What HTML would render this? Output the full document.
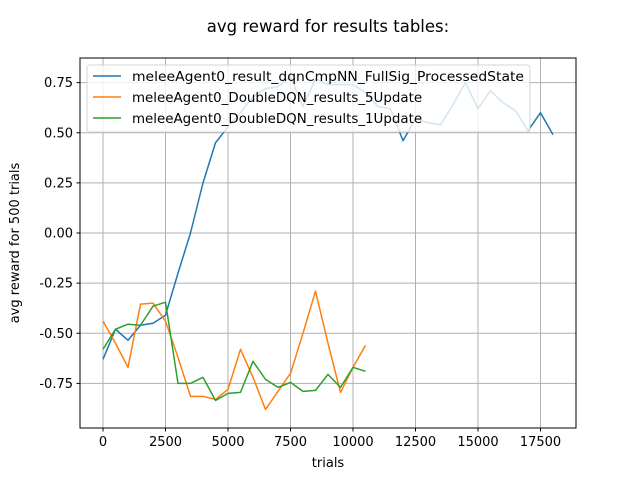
<!DOCTYPE html>
<html><head><meta charset="utf-8"><style>
body{margin:0;background:#fff;}
svg{display:block;font-family:"DejaVu Sans","Liberation Sans",sans-serif;}
</style></head><body>
<svg id="chart" width="640" height="480" viewBox="0 0 640 480" xmlns="http://www.w3.org/2000/svg">
<rect width="640" height="480" fill="#fff"/>
<text x="328" y="32" font-size="16.5" text-anchor="middle">avg reward for results tables:</text>
<g id="grid"></g>
<g id="ticks"></g>
<g id="series"></g>
<rect x="80" y="58" width="496" height="370" fill="none" stroke="#000" stroke-width="1"/>
<text x="328" y="467" font-size="13" text-anchor="middle">trials</text>
<text x="0" y="0" font-size="13" text-anchor="middle" transform="translate(19,243) rotate(-90)">avg reward for 500 trials</text>
<g id="legend"></g>
</svg>
<script>
const xTicks=[0,2500,5000,7500,10000,12500,15000,17500];
const yTicks=[-0.75,-0.5,-0.25,0,0.25,0.5,0.75];
const seriesNames=["meleeAgent0_result_dqnCmpNN_FullSig_ProcessedState","meleeAgent0_DoubleDQN_results_5Update","meleeAgent0_DoubleDQN_results_1Update"];
const blueVals=[-0.63,-0.48,-0.535,-0.46,-0.45,-0.41,-0.2,0.0,0.25,0.45,0.53,0.6,0.68,0.72,0.73,0.78,0.63,0.77,0.74,0.74,0.74,0.7,0.63,0.62,0.46,0.57,0.55,0.54,0.64,0.75,0.62,0.71,0.65,0.61,0.51,0.6,0.49];
const orangeVals=[-0.44,-0.55,-0.67,-0.355,-0.35,-0.44,-0.62,-0.815,-0.815,-0.83,-0.78,-0.58,-0.72,-0.88,-0.79,-0.7,-0.5,-0.29,-0.55,-0.795,-0.67,-0.56];
const greenVals=[-0.58,-0.48,-0.455,-0.46,-0.365,-0.345,-0.75,-0.75,-0.72,-0.835,-0.8,-0.795,-0.64,-0.73,-0.77,-0.745,-0.79,-0.785,-0.705,-0.77,-0.67,-0.69];
const xStep=500;
const colors=["#1f77b4","#ff7f0e","#2ca02c"];
const NS="http://www.w3.org/2000/svg";
const xs=v=>103+v*0.025;
const ys=v=>233-v*200.5;
function mk(tag,attrs,parent){const e=document.createElementNS(NS,tag);for(const k in attrs)e.setAttribute(k,attrs[k]);parent.appendChild(e);return e;}
const grid=document.getElementById('grid'),ticks=document.getElementById('ticks'),ser=document.getElementById('series'),leg=document.getElementById('legend');
xTicks.forEach(t=>{const x=xs(t);
 const g=mk('line',{x1:x,x2:x,y1:58,y2:428,stroke:'#b0b0b0','stroke-width':1},grid);
 
 
 mk('line',{x1:x,x2:x,y1:428,y2:431.5,stroke:'#000'},ticks);
 const l=mk('text',{x:x,y:446,'font-size':13,'text-anchor':'middle'},ticks);l.textContent=t;
 
 
});
yTicks.forEach(t=>{const y=ys(t);
 const g=mk('line',{x1:80,x2:576,y1:y,y2:y,stroke:'#b0b0b0','stroke-width':1},grid);
 
 
 mk('line',{x1:76.5,x2:80,y1:y,y2:y,stroke:'#000'},ticks);
 const l=mk('text',{x:73,y:y+4.5,'font-size':13,'text-anchor':'end'},ticks);l.textContent=t.toFixed(2);
 
 
});
[blueVals,orangeVals,greenVals].forEach((vals,i)=>{
 const p=mk('polyline',{points:vals.map((v,j)=>xs(j*xStep)+','+ys(v)).join(' '),fill:'none',stroke:colors[i],'stroke-width':1.5,'stroke-linejoin':'round'},ser);
 
 
});
mk('rect',{x:87,y:65,width:443,height:67,rx:3,fill:'#fff','fill-opacity':0.8,stroke:'#ccc','stroke-opacity':0.8},leg);
seriesNames.forEach((n,i)=>{const y=76+i*21;
 mk('line',{x1:93,x2:121,y1:y,y2:y,stroke:colors[i],'stroke-width':1.5},leg);
 const t=mk('text',{x:132,y:y+5,'font-size':13,textLength:392*(n.length/50),lengthAdjust:'spacingAndGlyphs'},leg);t.textContent=n;
 
 
});
</script>
</body></html>
